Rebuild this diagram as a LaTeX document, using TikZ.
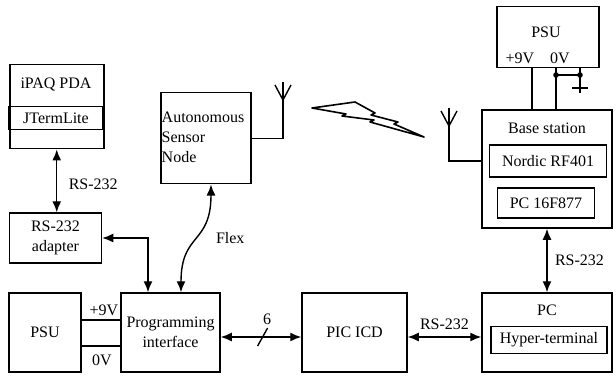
\documentclass[tikz,border=0pt]{standalone}
\usepackage{fontspec}
\setmainfont{Liberation Serif}
\usetikzlibrary{positioning,arrows.meta}

\begin{document}
\begin{tikzpicture}[x=1pt, y=-1pt, font=\fontsize{16}{20}\selectfont,
  box/.style={draw, line width=1.5pt, inner sep=2pt, align=center},
  sub/.style={draw, line width=1.2pt, inner sep=2pt},
  arr/.style={{Latex[length=11pt,width=9pt]}-{Latex[length=11pt,width=9pt]}, line width=1.4pt},
  wire/.style={line width=1.4pt}]
\useasboundingbox (0,0) rectangle (616,377);
% left column
\node[box, minimum width=94, minimum height=84, anchor=north west] (pda) at (9,64) {};
\node (pdalbl) at (56,85) {iPAQ PDA};
\node[sub, minimum width=94, minimum height=23] (jterm) at (56,118) {JTermLite};
\node[box, minimum width=92, minimum height=50] (adapt) at (55.5,238) {RS-232\\adapter};
\node[box, minimum width=72, minimum height=79] (psuL) at (45,332.5) {PSU};
\node[box, minimum width=99, minimum height=79] (prog) at (170.5,332.5) {Programming\\interface};
% sensor node with antenna
\node[box, minimum width=90, minimum height=91, anchor=north west] (sensor) at (160,92) {};
\node[anchor=west, align=left, inner sep=1.5pt] (sensorlbl) at (160,137) {Autonomous\\Sensor\\Node};
\coordinate (antS) at (283,82);
% middle and right
\node[box, minimum width=105, minimum height=79] (icd) at (354.5,332.5) {PIC ICD};
\node[box, minimum width=130, minimum height=79] (pc) at (547,332.5) {};
\node (pclbl) at (547,310) {PC};
\node[sub, minimum width=116, minimum height=27] (hyper) at (549,340) {Hyper-terminal};
\node[box, minimum width=130, minimum height=118] (base) at (547,169) {};
\node (baselbl) at (547,128) {Base station};
\node[sub, minimum width=117, minimum height=32] (nordic) at (548,161) {Nordic RF401};
\node[sub, minimum width=97, minimum height=30] (pic) at (546,203) {PC 16F877};
\coordinate (antB) at (449,108);
% top PSU
\node[box, minimum width=102, minimum height=61, anchor=north west] (psuT) at (496,6) {};
\node (psuTlbl) at (546,32) {PSU};
\node (v9T) at (520,58) {+9V};
\node (v0T) at (560,58) {0V};
\coordinate (t9) at (532,67);
\coordinate (t0) at (556,67);
\coordinate (j1) at (556,75);
\coordinate (j2) at (580,75);
\coordinate (tg) at (580,67);
\coordinate (gnd) at (580,88);
\draw[wire] (t9) -- (t9 |- base.north);
\draw[wire] (t0) -- (t0 |- base.north);
\draw[wire] (j1) -- (j2);
\draw[wire] (tg) -- (gnd);
\fill (j1) circle (2.8);
\fill (j2) circle (2.8);
\draw[wire] (gnd) ++(-8,0) -- ++(16,0);
\draw[wire] (gnd) -- ++(0,5);
% antennas
\draw[wire] (sensor.east) -| (antS);
\draw[wire] (antS) ++(-8,3) -- ++(8,15) -- ++(8,-15);
\draw[wire] (antB) |- (base.west |- nordic);
\draw[wire] (antB) ++(-8,3) -- ++(8,15) -- ++(8,-15);
% radio link
\draw[line width=1.6pt, line join=round] (312,108) -- (355,102) -- (375,113) -- (371,115) -- (398,122)
  -- (394,124) -- (424,137) -- (370,122) -- (374,120) -- (342,116) -- (346,114) -- cycle;
% connections
\draw[arr] (pda.south) -- (pda.south |- adapt.north) node[pos=.55, right=8pt] {RS-232};
\draw[arr] (adapt.east) -| (prog.north -| 148,0);
\draw[arr] (sensor.south -| 211,0) .. controls (211,245) and (181,232) .. (prog.north -| 181,0)
  node[pos=.5, right=16pt] {Flex};
\draw[wire] (psuL.east |- 0,320) -- (prog.west |- 0,320);
\draw[wire] (psuL.east |- 0,346) -- (prog.west |- 0,346);
\node (v9L) at (104,310) {+9V};
\node (v0L) at (102,360) {0V};
\draw[arr] ([yshift=-4.5pt]prog.east) -- node[pos=.52, inner sep=0] (bus) {} ([yshift=-4.5pt]icd.west);
\draw[wire] ([shift={(-5,9)}]bus.center) -- ([shift={(5,-9)}]bus.center);
\node (buslbl) at (267,319) {6};
\draw[arr] ([yshift=-4.5pt]icd.east) -- ([yshift=-4.5pt]pc.west) node[midway, above=3pt] {RS-232};
\draw[arr] (base.south) -- (pc.north) node[midway, right=4pt] {RS-232};
\end{tikzpicture}
\end{document}
